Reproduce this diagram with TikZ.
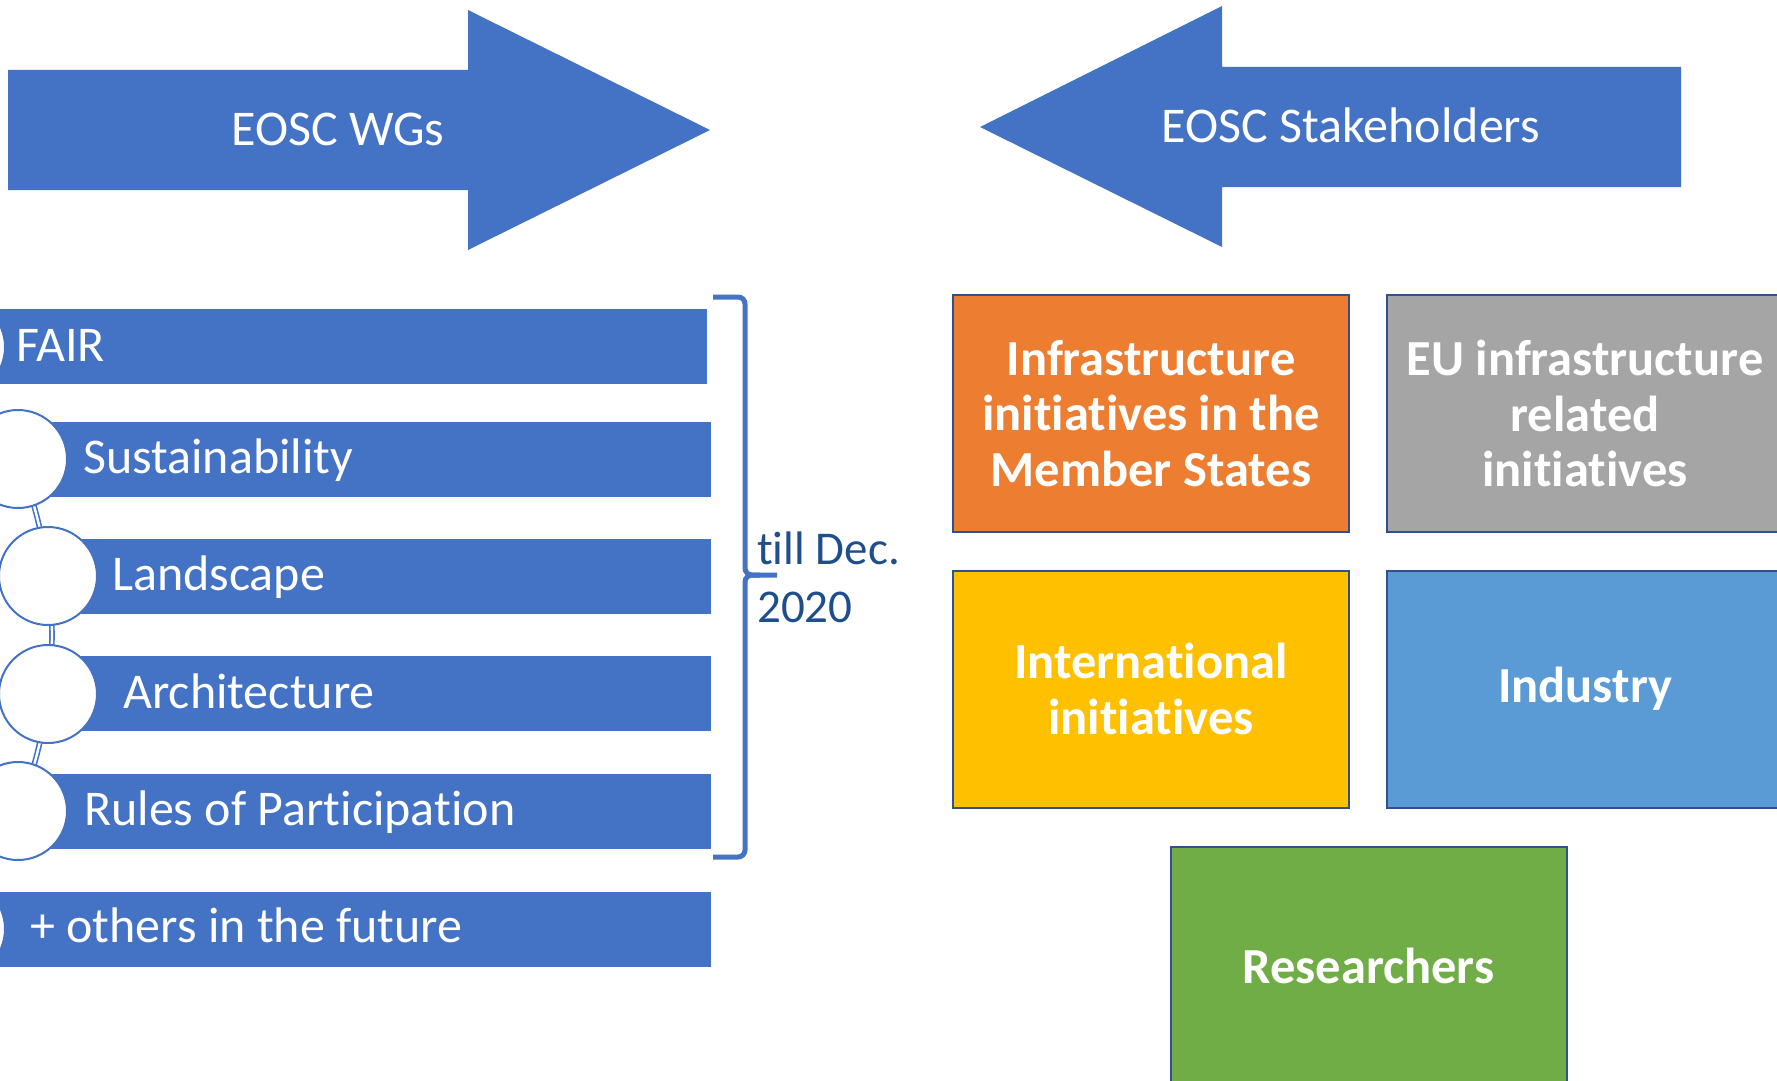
\documentclass[tikz,border=0pt]{standalone}
\usepackage{fontspec}
\setmainfont[Ligatures={NoCommon},RawFeature={-liga;-calt;-dlig}]{Carlito}
\definecolor{mblue}{HTML}{4472C4}
\definecolor{bordblue}{HTML}{2F528F}
\definecolor{orng}{HTML}{ED7D31}
\definecolor{gry}{HTML}{A5A5A5}
\definecolor{yel}{HTML}{FFC000}
\definecolor{lblue}{HTML}{5B9BD5}
\definecolor{grn}{HTML}{70AD47}
\definecolor{dtext}{HTML}{1F4E8C}
\begin{document}
\begin{tikzpicture}[x=1pt,y=-1pt,
  bigtxt/.style={font=\fontsize{50}{58}\selectfont, text=white, inner sep=0pt},
  bartxt/.style={font=\fontsize{50}{58}\selectfont, text=white, inner sep=0pt, anchor=base west},
  barbox/.style={rectangle, fill=mblue, draw=none, minimum height=75pt, inner sep=0pt},
  circ/.style={circle, fill=white, draw=mblue, line width=2pt, minimum size=98pt, inner sep=0pt},
  stake/.style={rectangle, draw=bordblue, line width=2pt, minimum width=396pt, minimum height=237pt,
     align=center, text=white, font=\bfseries\fontsize{50.5}{55.5}\selectfont, inner sep=0pt},
  arcline/.style={draw=mblue, line width=1.6pt, double=white, double distance=2.4pt},
  datetxt/.style={font=\fontsize{47}{58}\selectfont, text=dtext, inner sep=0pt, anchor=base west}
]
\useasboundingbox (0,0) rectangle (1777,1081);
\clip (0,0) rectangle (1777,1081);
\fill[white] (0,0) rectangle (1777,1081);

% top arrows
\fill[mblue] (8,70) -- (468,70) -- (468,10) -- (710,130) -- (468,250) -- (468,190) -- (8,190) -- cycle;
\node[bigtxt] (wgs) at (338,129) {EOSC WGs};
\fill[mblue] (980,127) -- (1222,6) -- (1222,67) -- (1681,67) -- (1681,187) -- (1222,187) -- (1222,247) -- cycle;
\node[bigtxt] (stk) at (1351,125) {EOSC Stakeholders};

% curved list: arc
\draw[arcline] plot[domain=-42:42, samples=80] ({-425+477*cos(\x)},{635.5+477*sin(\x)});

% bars
\node[barbox, minimum width=767pt] (b1) at (323.5,346.5) {};
\node[barbox, minimum width=693pt] (b2) at (364.5,459.5) {};
\node[barbox, minimum width=663pt] (b3) at (379.5,576.5) {};
\node[barbox, minimum width=663pt] (b4) at (379.5,693.5) {};
\node[barbox, minimum width=693pt] (b5) at (364.5,811.5) {};
\node[barbox, minimum width=771pt] (b6) at (325.5,929) {};

% circles
\node[circ] (c1) at (-44,347) {};
\node[circ] (c2) at (18,459) {};
\node[circ] (c3) at (48,576) {};
\node[circ] (c4) at (48,694) {};
\node[circ] (c5) at (18,811) {};
\node[circ] (c6) at (-44,929) {};

% bar texts
\node[bartxt] (t1) at (16,361) {FAIR};
\node[bartxt] (t2) at (83,473) {Sustainability};
\node[bartxt] (t3) at (112,590) {Landscape};
\node[bartxt] (t4) at (123,708) {Architecture};
\node[bartxt] (t5) at (84,825) {Rules of Participation};
\node[bartxt] (t6) at (30,942) {+ others in the future};

% brace
\draw[mblue, line width=5pt, rounded corners=7pt]
  (713,297) -- (745,297) -- (745,575) -- (777,575);
\draw[mblue, line width=5pt, rounded corners=7pt]
  (713,857) -- (745,857) -- (745,575) -- (760,575);
\node[datetxt] (till) at (757,564) {till Dec.};
\node[datetxt] (yr) at (757,622) {2020};

% stakeholder boxes
\node[stake, fill=orng] (s1) at (1151,413.5) {Infrastructure\\initiatives in the\\Member States};
\node[stake, fill=gry] (s2) at (1585,413.5) {EU infrastructure\\related\\initiatives};
\node[stake, fill=yel] (s3) at (1151,689) {International\\initiatives};
\node[stake, fill=lblue] (s4) at (1585,689) {Industry};
\node[stake, fill=grn] (s5) at (1368.5,965.5) {Researchers};
\end{tikzpicture}
\end{document}
